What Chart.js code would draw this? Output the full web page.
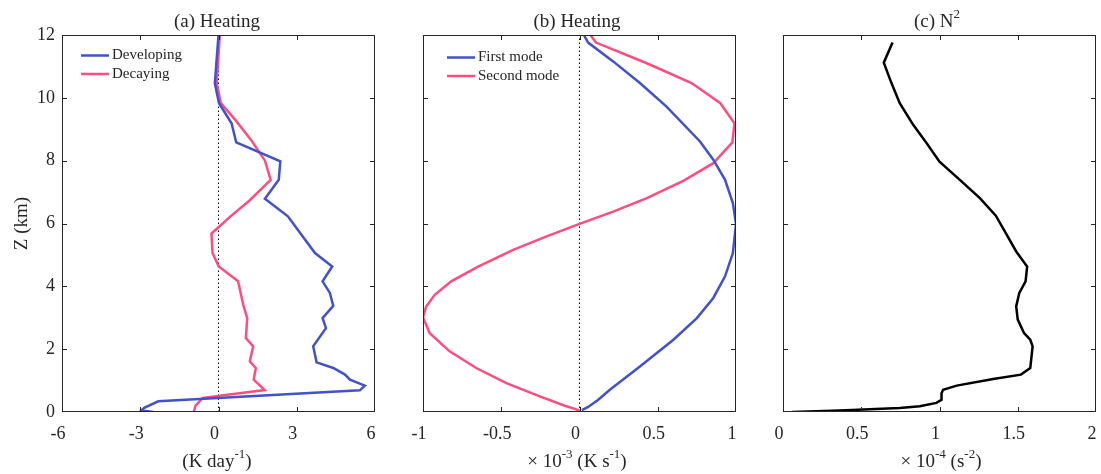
<!DOCTYPE html>
<html>
<head>
<meta charset="utf-8">
<script src="https://cdn.jsdelivr.net/npm/chart.js@4.4.0/dist/chart.umd.min.js"></script>
<style>
html, body { margin: 0; padding: 0; background: #fff; }
#wrap { position: relative; width: 1101px; height: 474px; }
canvas { position: absolute; top: 0; }
</style>
</head>
<body>
<div id="wrap">
  <canvas id="chartA" width="380" height="474" style="left:0px"></canvas>
  <canvas id="chartB" width="380" height="474" style="left:380px"></canvas>
  <canvas id="chartC" width="341" height="474" style="left:760px"></canvas>
</div>
<script>
// (a) heating profiles, height in km
var devZ = [12, 10.46, 9.83, 9.19, 8.58, 7.98, 7.39, 6.79, 6.23, 5.64, 5.06, 4.63, 4.16, 3.79, 3.38, 2.99, 2.67, 2.09, 1.58, 1.40, 1.19, 1.03, 0.84, 0.69, 0.34, 0.13, 0.05, 0];
var devHeat = [0.0, -0.14, 0.02, 0.5, 0.68, 2.37, 2.31, 1.78, 2.66, 3.18, 3.7, 4.36, 3.99, 4.27, 4.40, 3.99, 4.12, 3.63, 3.76, 4.40, 4.85, 5.04, 5.61, 5.42, -2.31, -2.85, -2.95, -2.5];
var decZ = [12, 10.46, 9.83, 9.25, 8.61, 8.0, 7.39, 6.74, 6.22, 5.88, 5.68, 5.06, 4.63, 4.16, 3.41, 2.99, 2.35, 2.09, 1.61, 1.40, 1.03, 0.70, 0.45, 0.20, 0];
var decHeat = [0.05, -0.07, 0.09, 0.69, 1.29, 1.78, 2.0, 1.2, 0.45, 0.0, -0.27, -0.23, 0.01, 0.75, 0.95, 1.1, 1.05, 1.33, 1.2, 1.43, 1.35, 1.77, -0.6, -0.88, -0.95];

// (b) vertical modes (x 10^-3 K/s)
var m1Z = [12, 11.76, 11.16, 10.47, 9.72, 8.61, 8.03, 7.39, 6.65, 5.99, 5.06, 4.32, 3.63, 2.99, 2.30, 1.45, 0.71, 0.38, 0.16, 0.06];
var mode1 = [0.028, 0.055, 0.215, 0.386, 0.556, 0.77, 0.855, 0.93, 0.98, 1.0, 0.98, 0.93, 0.855, 0.75, 0.6, 0.386, 0.194, 0.118, 0.055, 0.015];
var m2Z = [12, 11.76, 11.1, 10.47, 9.83, 9.19, 8.58, 7.92, 7.36, 6.81, 6.38, 5.99, 5.59, 5.16, 4.63, 4.16, 3.73, 3.36, 3.01, 2.51, 1.93, 1.40, 0.92, 0.50, 0.20, 0.10, 0.04];
var mode2 = [0.07, 0.105, 0.43, 0.716, 0.9, 0.99, 0.977, 0.855, 0.663, 0.43, 0.215, 0, -0.21, -0.424, -0.648, -0.82, -0.925, -0.98, -1.0, -0.957, -0.83, -0.66, -0.467, -0.254, -0.094, -0.03, 0.0];

// (c) N^2 (x 10^-4 s^-2)
var n2Z = [11.76, 11.12, 10.47, 9.83, 9.14, 8.56, 7.97, 7.39, 6.81, 6.25, 5.64, 5.11, 4.63, 4.16, 3.79, 3.36, 2.94, 2.51, 2.30, 2.09, 1.40, 1.19, 1.05, 0.84, 0.71, 0.60, 0.39, 0.29, 0.18, 0.13, 0.05, 0];
var n2 = [0.70, 0.644, 0.693, 0.746, 0.832, 0.917, 1.0, 1.13, 1.258, 1.36, 1.43, 1.49, 1.56, 1.55, 1.51, 1.49, 1.50, 1.54, 1.58, 1.595, 1.58, 1.52, 1.343, 1.11, 1.023, 1.013, 1.013, 0.98, 0.874, 0.746, 0.362, 0.058];

var zTicksMax = 12;
var BLUE = '#4152CC';
var PINK = '#FF4D7D';
var INK = '#262626';
var FONT = '"Liberation Serif", "Times New Roman", serif';

function pts(xs, zs) {
    return xs.map(function (v, i) { return { x: v, y: zs[i] }; });
}

function drawRich(ctx, parts, x, y, size, angle) {
    var base = size + 'px ' + FONT;
    var sup = Math.round(size * 0.68) + 'px ' + FONT;
    var w = 0;
    parts.forEach(function (p) { ctx.font = p[1] ? sup : base; w += ctx.measureText(p[0]).width; });
    ctx.save();
    ctx.translate(x, y);
    ctx.rotate(angle || 0);
    ctx.textBaseline = 'middle';
    ctx.fillStyle = INK;
    var cx = -w / 2;
    parts.forEach(function (p) {
        ctx.font = p[1] ? sup : base;
        ctx.fillText(p[0], cx, p[1] ? -size * 0.38 : 0);
        cx += ctx.measureText(p[0]).width;
    });
    ctx.restore();
}

// box, inward ticks, titles and legend
var framePlugin = {
    id: 'frame',
    afterDraw: function (chart, args, o) {
        var ctx = chart.ctx, a = chart.chartArea;
        var xs = chart.scales.x, ys = chart.scales.y;
        ctx.save();
        ctx.strokeStyle = INK;
        ctx.lineWidth = 1;
        ctx.strokeRect(a.left + 0.5, a.top + 0.5, a.right - a.left - 1, a.bottom - a.top - 1);
        ctx.beginPath();
        xs.ticks.forEach(function (t) {
            var px = Math.round(xs.getPixelForValue(t.value)) + 0.5;
            if (px < a.left + 2 || px > a.right - 2) return;
            ctx.moveTo(px, a.bottom); ctx.lineTo(px, a.bottom - 5);
            ctx.moveTo(px, a.top); ctx.lineTo(px, a.top + 5);
        });
        ys.ticks.forEach(function (t) {
            var py = Math.round(ys.getPixelForValue(t.value)) + 0.5;
            if (py < a.top + 2 || py > a.bottom - 2) return;
            ctx.moveTo(a.left, py); ctx.lineTo(a.left + 5, py);
            ctx.moveTo(a.right, py); ctx.lineTo(a.right - 5, py);
        });
        ctx.stroke();

        drawRich(ctx, o.title, o.titleX, 22, 19);
        drawRich(ctx, o.xTitle, o.xTitleX, 462, 19);
        if (o.yTitle) drawRich(ctx, o.yTitle, 22, (a.top + a.bottom) / 2, 19, -Math.PI / 2);

        if (o.legend) {
            var lx = a.left + o.legend.dx, ly = a.top + o.legend.dy;
            ctx.font = '15px ' + FONT;
            ctx.textBaseline = 'middle';
            chart.data.datasets.forEach(function (ds) {
                if (!ds.label) return;
                ctx.strokeStyle = ds.borderColor;
                ctx.lineWidth = 2.5;
                ctx.beginPath();
                ctx.moveTo(lx, ly); ctx.lineTo(lx + 28, ly);
                ctx.stroke();
                ctx.fillStyle = INK;
                ctx.fillText(ds.label, lx + 31, ly);
                ly += o.legend.gap;
            });
        }
        ctx.restore();
    }
};

function makeScales(xmin, xmax, step, yWidth, showY) {
    var tickFont = { family: FONT, size: 18 };
    return {
        x: {
            type: 'linear', min: xmin, max: xmax,
            grid: { display: false, drawTicks: false },
            border: { display: false },
            ticks: {
                stepSize: step, font: tickFont, color: INK, padding: 11, labelOffset: -4,
                maxRotation: 0, autoSkip: false,
                callback: function (v) { return String(v); }
            },
            afterFit: function (s) { s.height = 62; s.paddingLeft = 0; s.paddingRight = 0; }
        },
        y: {
            type: 'linear', min: 0, max: zTicksMax,
            grid: { display: false, drawTicks: false },
            border: { display: false },
            ticks: { stepSize: 2, display: showY, font: tickFont, color: INK, padding: 7 },
            afterFit: function (s) { s.width = yWidth; s.paddingTop = 0; s.paddingBottom = 0; }
        }
    };
}

function line(label, data, color, width) {
    return {
        label: label, data: data, borderColor: color, backgroundColor: color,
        borderWidth: width || 2.5, showLine: true, pointRadius: 0, tension: 0
    };
}

function zeroLine() {
    return {
        label: '', data: [{ x: 0, y: 0 }, { x: 0, y: 12 }], borderColor: '#000',
        borderWidth: 1, borderDash: [1.5, 2.5], showLine: true, pointRadius: 0
    };
}

function baseOptions(scales, padRight, frame) {
    return {
        responsive: false,
        animation: false,
        layout: { padding: { top: 35, right: padRight, left: 0, bottom: 0 } },
        scales: scales,
        plugins: { legend: { display: false }, tooltip: { enabled: false }, frame: frame }
    };
}

new Chart(document.getElementById('chartA'), {
    type: 'scatter',
    data: {
        datasets: [
            line('Developing', pts(devHeat, devZ), BLUE),
            line('Decaying', pts(decHeat, decZ), PINK),
            zeroLine()
        ]
    },
    options: baseOptions(makeScales(-6, 6, 3, 62, true), 5, {
        title: [['(a) Heating', false]], titleX: 217,
        xTitle: [['(K day', false], ['-1', true], [')', false]], xTitleX: 217,
        yTitle: [['Z (km)', false]],
        legend: { dx: 19, dy: 20.5, gap: 18.5 }
    }),
    plugins: [framePlugin]
});

new Chart(document.getElementById('chartB'), {
    type: 'scatter',
    data: {
        datasets: [
            line('First mode', pts(mode1, m1Z), BLUE),
            line('Second mode', pts(mode2, m2Z), PINK),
            zeroLine()
        ]
    },
    options: baseOptions(makeScales(-1, 1, 0.5, 43, false), 24, {
        title: [['(b) Heating', false]], titleX: 197,
        xTitle: [['\u00d7 10', false], ['-3', true], [' (K s', false], ['-1', true], [')', false]], xTitleX: 197,
        legend: { dx: 24, dy: 22.5, gap: 18.5 }
    }),
    plugins: [framePlugin]
});

new Chart(document.getElementById('chartC'), {
    type: 'scatter',
    data: {
        datasets: [
            line('', pts(n2, n2Z), '#000')
        ]
    },
    options: baseOptions(makeScales(0, 2, 0.5, 23, false), 5, {
        title: [['(c) N', false], ['2', true]], titleX: 177,
        xTitle: [['\u00d7 10', false], ['-4', true], [' (s', false], ['-2', true], [')', false]], xTitleX: 181
    }),
    plugins: [framePlugin]
});
</script>
</body>
</html>
